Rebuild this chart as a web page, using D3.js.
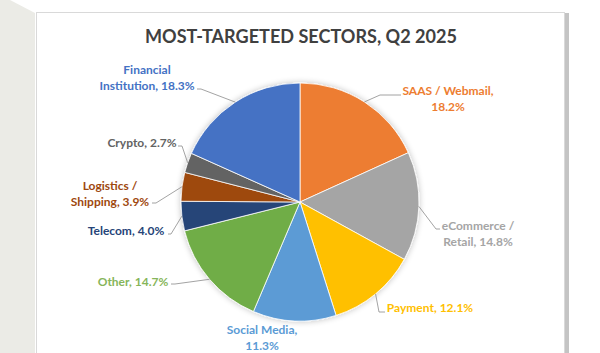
<!DOCTYPE html>
<html>
<head>
<meta charset="utf-8">
<script src="https://cdn.jsdelivr.net/npm/d3@7"></script>
<style>
  body { margin: 0; background: #fff; }
  svg { display: block; font-family: Lato, "Open Sans", sans-serif; }
</style>
</head>
<body>
<div id="chart"></div>
<script>
// data, clockwise from 12 o'clock
var sectors = ["SAAS / Webmail", "eCommerce / Retail", "Payment", "Social Media", "Other",
               "Telecom", "Logistics / Shipping", "Crypto", "Financial Institution"];
var shares = [18.2, 14.8, 12.1, 11.3, 14.7, 4.0, 3.9, 2.7, 18.3];
var colors = ["#ED7D31", "#A5A5A5", "#FFC000", "#5B9BD5", "#70AD47",
              "#264478", "#9E480E", "#636363", "#4472C4"];
var labelLines = [["SAAS / Webmail,", "18.2%"], ["eCommerce /", "Retail, 14.8%"], ["Payment, 12.1%"],
                  ["Social Media,", "11.3%"], ["Other, 14.7%"], ["Telecom, 4.0%"],
                  ["Logistics /", "Shipping, 3.9%"], ["Crypto, 2.7%"], ["Financial", "Institution, 18.3%"]];

var width = 600, height = 353;
var cx = 300, cy = 202, radius = 119;

// where each label sits (text centre, first baseline) and where its leader ends
var layout = {
  "SAAS / Webmail":        { x: 448, y: 95,  end: [401, 95],  elbow: [380, 95] },
  "eCommerce / Retail":    { x: 478, y: 230, end: [440, 229], elbow: [436, 229] },
  "Payment":               { x: 430, y: 312, end: [385, 312], elbow: [379, 312] },
  "Social Media":          { x: 262, y: 334, end: null },
  "Other":                 { x: 133, y: 286, end: [171, 284], elbow: [175, 284] },
  "Telecom":               { x: 126, y: 235, end: [168, 234], elbow: [171, 234] },
  "Logistics / Shipping":  { x: 110, y: 190, end: [152, 203], elbow: [156, 203] },
  "Crypto":                { x: 142, y: 147, end: [178, 146], elbow: [182, 146] },
  "Financial Institution": { x: 147, y: 74,  end: [197, 89],  elbow: [201, 89] }
};

var data = sectors.map(function(d, i) {
    return { name: d, value: shares[i], color: colors[i], lines: labelLines[i] };
});

var svg = d3.select("#chart").append("svg")
    .attr("width", width)
    .attr("height", height);

// backdrop: grey strip on the left, chart frame
svg.append("polygon")
    .attr("points", "0,0 10,0 35,13 35," + height + " 0," + height)
    .attr("fill", "#ebebe6");
svg.append("rect")
    .attr("x", 565).attr("y", 13).attr("width", 4).attr("height", height)
    .attr("fill", "#c4c4c4");
svg.append("rect")
    .attr("x", 36.5).attr("y", 12.5).attr("width", 528).attr("height", height)
    .attr("fill", "#fff")
    .attr("stroke", "#d9d9d9");

svg.append("text")
    .attr("x", 301)
    .attr("y", 43)
    .attr("text-anchor", "middle")
    .attr("font-size", 19)
    .attr("font-weight", 700)
    .attr("fill", "#404040")
    .attr("textLength", 312)
    .attr("lengthAdjust", "spacingAndGlyphs")
    .text("MOST-TARGETED SECTORS, Q2 2025");

var defs = svg.append("defs");
var glow = defs.append("filter").attr("id", "glow")
    .attr("x", "-20%").attr("y", "-20%").attr("width", "140%").attr("height", "140%");
glow.append("feGaussianBlur").attr("in", "SourceAlpha").attr("stdDeviation", 3);
glow.append("feComponentTransfer").append("feFuncA").attr("type", "linear").attr("slope", 0.25);
var merge = glow.append("feMerge");
merge.append("feMergeNode");
merge.append("feMergeNode").attr("in", "SourceGraphic");

var pie = d3.pie().sort(null).value(function(d) { return d.value; });
var arc = d3.arc().innerRadius(0).outerRadius(radius);
var edge = d3.arc().innerRadius(radius).outerRadius(radius);

var g = svg.append("g").attr("transform", "translate(" + cx + "," + cy + ")");
var arcs = pie(data);

g.append("g")
    .attr("filter", "url(#glow)")
    .selectAll("path")
    .data(arcs)
    .enter()
    .append("path")
    .attr("d", arc)
    .attr("fill", function(d) { return d.data.color; })
    .attr("stroke", "#fff")
    .attr("stroke-width", 0.8);

// leader lines
svg.append("g")
    .selectAll("polyline")
    .data(arcs.filter(function(d) { return layout[d.data.name].end; }))
    .enter()
    .append("polyline")
    .attr("points", function(d) {
        var p = edge.centroid(d);
        var l = layout[d.data.name];
        return [[p[0] + cx, p[1] + cy], l.elbow, l.end].join(" ");
    })
    .attr("fill", "none")
    .attr("stroke", "#8c8c8c")
    .attr("stroke-width", 0.8);

// labels
var labels = svg.append("g")
    .selectAll("text")
    .data(arcs)
    .enter()
    .append("text")
    .attr("text-anchor", "middle")
    .attr("font-size", 12)
    .attr("font-weight", 700)
    .attr("fill", function(d) { return d.data.name === "Other" ? "#86b55a" : d.data.color; })
    .attr("transform", function(d) {
        var l = layout[d.data.name];
        return "translate(" + l.x + "," + l.y + ")";
    });

labels.selectAll("tspan")
    .data(function(d) { return d.data.lines; })
    .enter()
    .append("tspan")
    .attr("x", 0)
    .attr("dy", function(d, i) { return i === 0 ? 0 : 16; })
    .text(function(d) { return d; });
</script>
</body>
</html>
